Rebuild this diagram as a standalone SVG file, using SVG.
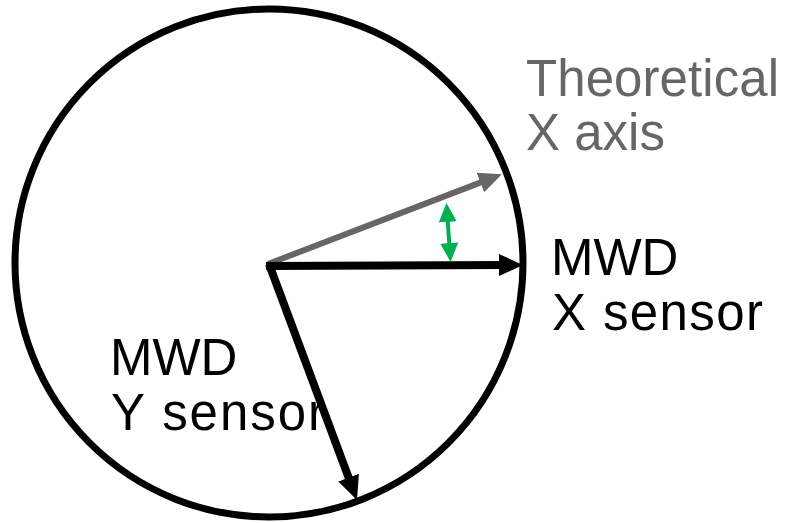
<svg xmlns="http://www.w3.org/2000/svg" width="790" height="523" viewBox="0 0 790 523">
<style>
.lbl{font-family:"Liberation Sans",Arial,sans-serif;font-size:51px}
.blk{fill:#000}
.gry{fill:#666}
</style>
<defs>
<marker id="hb" markerUnits="userSpaceOnUse" markerWidth="26" markerHeight="24" refX="6" refY="11" orient="auto"><path d="M0,0 L24,11 L0,22 z" fill="#000"/></marker>
<marker id="hg" markerUnits="userSpaceOnUse" markerWidth="26" markerHeight="24" refX="6" refY="10.5" orient="auto"><path d="M0,0 L23,10.5 L0,21 z" fill="#666"/></marker>
<marker id="hgr" markerUnits="userSpaceOnUse" markerWidth="22" markerHeight="20" refX="5" refY="9" orient="auto-start-reverse"><path d="M0,0 L19,9 L0,18 z" fill="#00b050"/></marker>
</defs>
<g id="circle"><circle cx="269" cy="263" r="254" fill="none" stroke="#000" stroke-width="7"/></g>
<g id="connectors" fill="none">
<line x1="268" y1="264" x2="486" y2="180.4" stroke="#666" stroke-width="6" marker-end="url(#hg)"/>
<line x1="266" y1="266" x2="505" y2="265" stroke="#000" stroke-width="8" marker-end="url(#hb)"/>
<line x1="269" y1="264" x2="350.7" y2="483.2" stroke="#000" stroke-width="8" marker-end="url(#hb)"/>
<line x1="447.4" y1="217" x2="449.6" y2="248" stroke="#00b050" stroke-width="4" marker-start="url(#hgr)" marker-end="url(#hgr)"/>
</g>
<g id="theoretical-x"><text class="lbl gry" x="526" y="96" textLength="253" lengthAdjust="spacing">Theoretical</text><text class="lbl gry" x="526" y="150">X axis</text></g>
<g id="mwd-x"><text class="lbl blk" x="551" y="275">MWD</text><text class="lbl blk" x="552" y="330" textLength="211" lengthAdjust="spacing">X sensor</text></g>
<g id="mwd-y"><text class="lbl blk" x="110" y="375">MWD</text><text class="lbl blk" x="111" y="430" textLength="214" lengthAdjust="spacing">Y sensor</text></g>
</svg>
